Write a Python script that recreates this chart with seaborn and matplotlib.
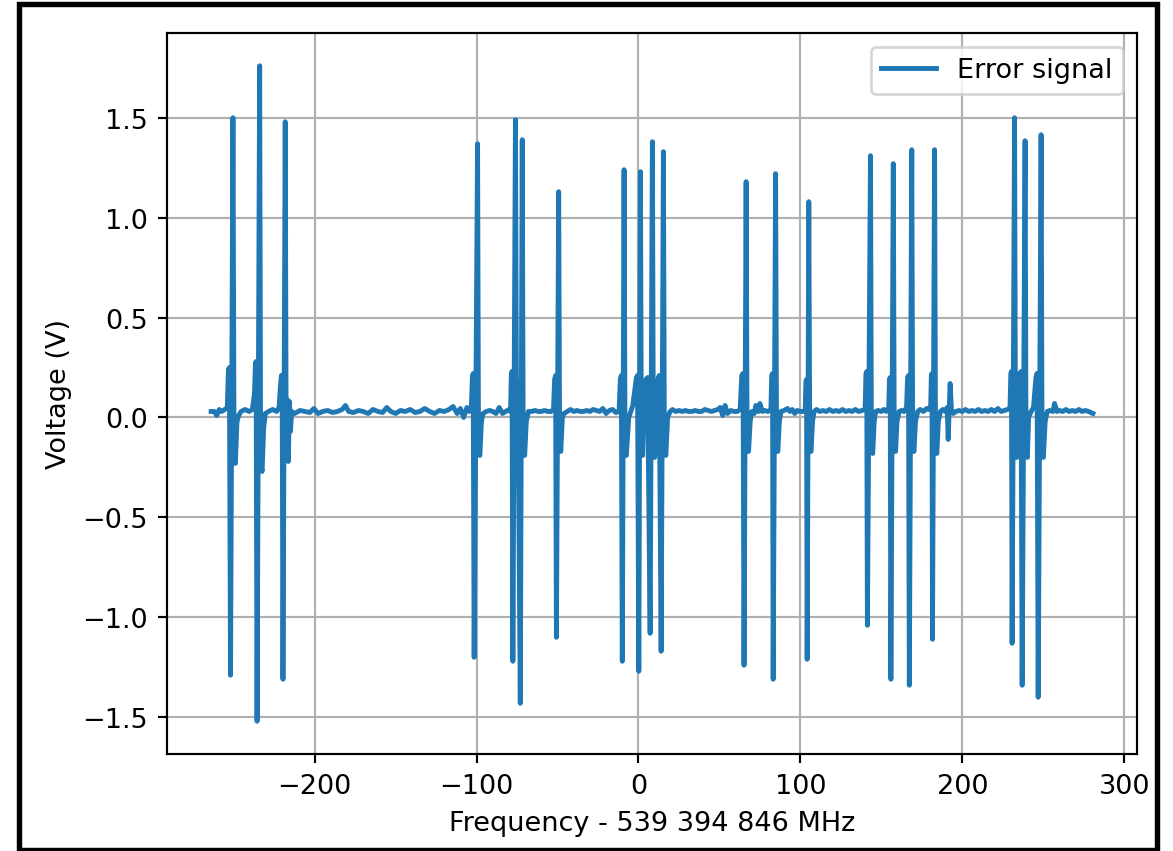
import matplotlib
matplotlib.use("Agg")
import matplotlib.pyplot as plt
from matplotlib.patches import Rectangle
import seaborn as sns
import pandas as pd

# Frequency offset (MHz) and error-signal voltage (V)
freq_mhz = [
    -264, -262, -260.5, -259, -257.5, -255.5, -254,
    -253.3, -252.7, -252.0, -250.5, -249.8, -249.0, -248.0, -247,
    -245.5, -243, -240.5, -238.5,
    -237.2, -236.6, -236.2, -235.6, -234.0, -233.4, -232.5, -231.5, -230.5,
    -228.5, -226, -223.5, -222,
    -221.2, -220.6, -220.1, -219.6, -218.2, -217.6, -217.0, -216.3, -215.6, -215.0, -214.2,
    -212.5, -209, -206, -203, -200.5, -198, -195, -192, -189, -186, -183, -181, -179,
    -176, -173, -170, -167, -164, -161, -158, -155.5, -153, -150, -147, -144, -141,
    -138, -135, -132, -129, -126, -123, -120, -117, -114.5, -112, -110, -108, -106,
    -104.5, -103.3,
    -102.6, -102.1, -101.5, -99.4, -98.8, -98.0, -97.0, -96,
    -94, -92, -90, -88, -86, -84, -82, -80, -79,
    -78.6, -78.1, -77.6, -76.0, -75.3, -74.5, -73.0, -71.8, -71.2, -70.3, -69.3, -68,
    -66, -64, -62, -60, -58, -56, -54, -52.5,
    -51.8, -51.2, -50.7, -49.3, -48.7, -48.0, -47.0, -46,
    -44, -42, -40, -38, -36, -34, -32, -30, -28, -26, -24, -22, -20, -18, -16, -14, -12,
    -11.2, -10.6, -10.0, -8.9, -8.3, -7.5, -6.0, -3.5, -1.3, -0.6,
    0.2, 1.2, 1.8, 2.6, 3.4, 4.6, 5.6, 7.2, 8.6, 9.2, 10.0, 11, 12, 12.8,
    14.0, 15.4, 16.0, 16.9, 18.0, 19.5,
    21, 23, 25, 27, 29, 31, 33, 35, 37, 39, 41, 43, 45, 47, 49, 50.5, 52, 53.5, 55, 57,
    59, 61, 62.8,
    63.8, 64.6, 65.2, 66.5, 67.1, 68.0, 69.0, 70,
    71.5, 72.5, 74, 75, 76.5, 78, 80, 81.8,
    82.3, 82.8, 83.2, 84.7, 85.3, 86.1, 87.0, 88,
    90, 92, 93.5, 95, 96.5, 98, 100, 102, 103,
    103.4, 103.8, 104.2, 105.2, 105.8, 106.6, 107.5, 108.5,
    110, 112, 114, 116, 118, 120, 122, 124, 126, 128, 130, 132, 134, 136, 138, 140,
    140.5, 141.0, 141.4, 143.3, 143.9, 144.7, 145.6, 146.5,
    148, 150, 151.5, 153, 154.6,
    155.0, 155.5, 155.9, 157.4, 158.0, 158.8, 159.7, 161,
    162.5, 164, 165.6,
    166.2, 166.8, 167.3, 168.8, 169.4, 170.2, 171.1, 172.5,
    174, 176, 178, 179.5, 180.5,
    180.9, 181.3, 181.6, 182.9, 183.5, 184.3, 185.2, 186.5,
    188, 189.5, 190.7,
    191.3, 192.5, 193.3, 194.5,
    196, 198, 200, 202, 204, 206, 208, 210, 212, 214, 216, 218, 220, 222, 224, 226,
    228, 229.5,
    230.0, 230.4, 230.8, 232.3, 232.9, 233.6, 234.5,
    235.6, 236.3, 237.0, 238.8, 239.4, 240.2, 241, 242.5, 244,
    245.5, 246.2, 246.9, 248.7, 249.3, 250.1, 251.2, 252.5,
    254, 256, 257, 258.5, 260, 262, 264, 266, 268, 270, 272, 274, 276, 278, 280.7,
]

error_v = [
    0.03, 0.03, 0.01, 0.04, 0.03, 0.04, 0.05,
    0.24, 0.25, -1.29, 1.50, -0.20, -0.23, -0.02, 0.01,
    0.03, 0.04, 0.03, 0.04,
    0.12, 0.27, 0.28, -1.52, 1.76, -0.22, -0.27, -0.05, 0.02,
    0.03, 0.04, 0.03, 0.05,
    0.15, 0.21, 0.20, -1.31, 1.48, -0.20, 0.09, -0.22, 0.08, -0.07, 0.03,
    0.02, 0.035, 0.03, 0.025, 0.045, 0.02, 0.03, 0.035, 0.025, 0.03, 0.04, 0.06, 0.03,
    0.025, 0.035, 0.03, 0.02, 0.04, 0.03, 0.025, 0.05, 0.03, 0.02, 0.035, 0.03, 0.04,
    0.025, 0.03, 0.045, 0.03, 0.02, 0.035, 0.03, 0.04, 0.055, 0.02, 0.045, 0.0, 0.05,
    0.03, 0.04,
    0.20, 0.22, -1.20, 1.37, -0.17, -0.19, -0.02, 0.02,
    0.03, 0.035, 0.03, 0.02, 0.05, 0.02, 0.03, 0.04, 0.03,
    0.20, 0.23, -1.22, 1.49, -0.05, 0.18, -1.43, 1.39, -0.16, -0.19, -0.02, 0.03,
    0.03, 0.035, 0.03, 0.03, 0.035, 0.03, 0.03, 0.04,
    0.19, 0.21, -1.10, 1.13, -0.15, -0.17, 0.0, 0.02,
    0.03, 0.04, 0.03, 0.035, 0.03, 0.03, 0.035, 0.03, 0.04, 0.035, 0.03, 0.045, 0.02,
    0.035, 0.04, 0.025, 0.03,
    0.19, 0.21, -1.22, 1.24, -0.17, -0.19, 0.0, 0.06, 0.20, 0.21,
    -1.27, 1.23, -0.17, -0.19, 0.10, 0.19, 0.20, -1.08, 1.38, -0.17, -0.20, -0.05, 0.19, 0.21,
    -1.17, 1.33, -0.17, -0.19, 0.0, 0.03,
    0.04, 0.03, 0.035, 0.03, 0.035, 0.03, 0.03, 0.035, 0.03, 0.03, 0.04, 0.035, 0.03,
    0.035, 0.04, 0.05, 0.01, 0.06, 0.02, 0.035,
    0.03, 0.03, 0.04,
    0.21, 0.22, -1.24, 1.18, -0.15, -0.17, -0.02, 0.03,
    0.02, 0.06, 0.03, 0.07, 0.03, 0.035, 0.03, 0.04,
    0.21, 0.22, -1.31, 1.22, -0.15, -0.17, -0.02, 0.03,
    0.035, 0.045, 0.03, 0.04, 0.02, 0.035, 0.03, 0.03, 0.04,
    0.18, 0.19, -1.21, 1.08, -0.15, -0.17, -0.02, 0.03,
    0.04, 0.03, 0.035, 0.03, 0.04, 0.03, 0.035, 0.03, 0.04, 0.03, 0.035, 0.03, 0.04,
    0.03, 0.035, 0.04,
    0.22, 0.23, -1.04, 1.31, -0.16, -0.18, -0.02, 0.03,
    0.035, 0.03, 0.04, 0.03, 0.05,
    0.19, 0.20, -1.31, 1.27, -0.15, -0.17, -0.02, 0.03,
    0.035, 0.03, 0.05,
    0.20, 0.21, -1.34, 1.34, -0.15, -0.17, -0.02, 0.03,
    0.04, 0.03, 0.045, 0.04, 0.06,
    0.21, 0.22, -1.11, 1.34, -0.16, -0.18, -0.02, 0.03,
    0.04, 0.03, 0.05,
    -0.11, 0.17, 0.04, 0.02,
    0.03, 0.035, 0.03, 0.04, 0.03, 0.035, 0.03, 0.04, 0.03, 0.035, 0.03, 0.04, 0.03,
    0.045, 0.03, 0.035, 0.04, 0.05,
    0.22, 0.23, -1.13, 1.50, -0.18, -0.20, 0.0,
    0.22, 0.23, -1.34, 1.385, -0.18, -0.20, 0.0, 0.03, 0.05,
    0.20, 0.22, -1.40, 1.415, -0.18, -0.20, -0.02, 0.03,
    0.035, 0.03, 0.07, 0.03, 0.035, 0.03, 0.04, 0.03, 0.035, 0.03, 0.04, 0.03, 0.035,
    0.03, 0.02,
]

series_label = "Error signal"
x_label = "Frequency - 539 394 846 MHz"
y_label = "Voltage (V)"

df = pd.DataFrame({"freq": freq_mhz, "volt": error_v})

DPI = 195
fig = plt.figure(figsize=(1173 / DPI, 852 / DPI), dpi=DPI)
ax = fig.add_axes([167 / 1173, 1 - 755 / 852, (1137 - 167) / 1173, (755 - 34) / 852])

sns.lineplot(data=df, x="freq", y="volt", ax=ax, color="#1f77b4", lw=1.8,
             estimator=None, sort=False, label=series_label)

ax.grid(True, color="#b0b0b0", linewidth=0.8)
ax.set_axisbelow(True)
ax.set_xlabel(x_label)
ax.set_ylabel(y_label)
ax.legend(loc="upper right")

# black frame around the whole picture
frame = Rectangle((19 / 1173, 1 / 852), (1157 - 19) / 1173, (847 - 1) / 852,
                  transform=fig.transFigure, fill=False, edgecolor="black",
                  linewidth=2.0, zorder=10)
fig.patches.append(frame)

fig.savefig("out.png", dpi=DPI)
